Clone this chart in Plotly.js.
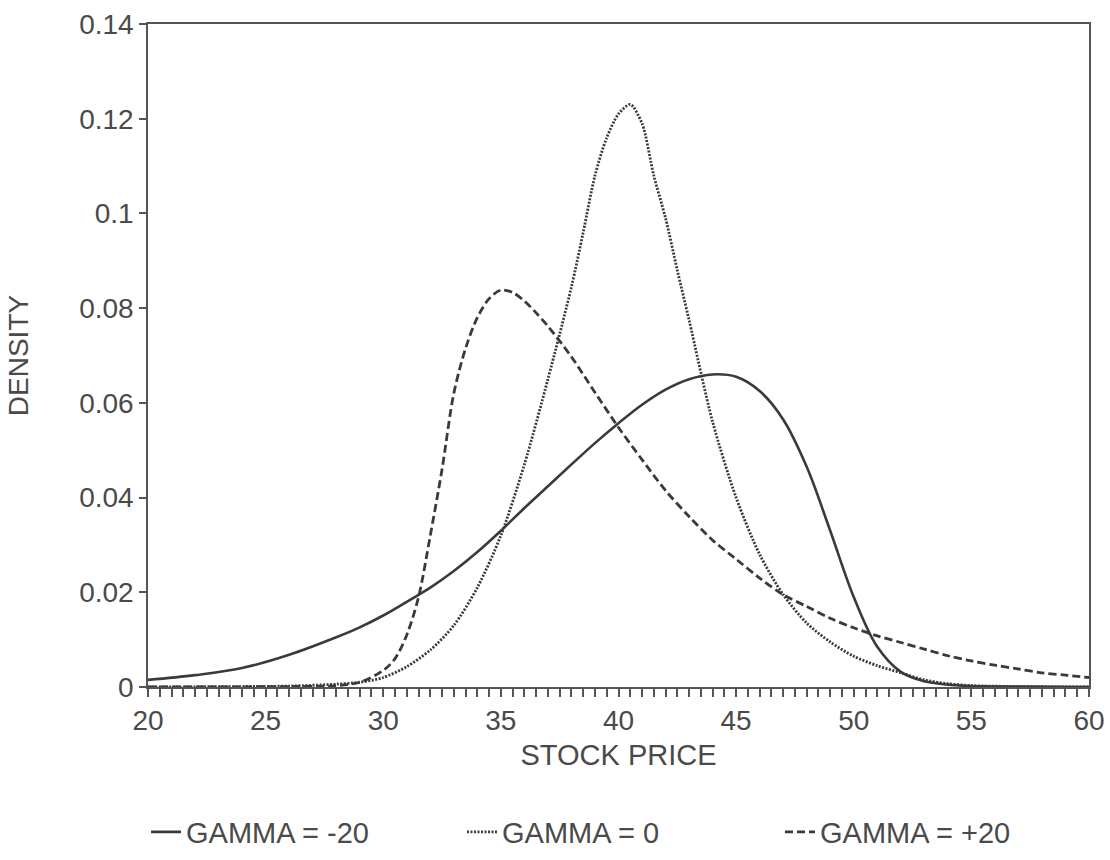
<!DOCTYPE html>
<html>
<head>
<meta charset="utf-8">
<script src="https://cdn.plot.ly/plotly-3.0.1.min.js"></script>
<style>html,body{margin:0;padding:0;background:#fff;}#chart{width:1110px;height:860px;}</style>
</head>
<body>
<div id="chart"></div>
<script>
// GAMMA = -20 (solid)
const priceNeg = [20,22,24,26,28,29,30,31,32,33,34,35,36,37,38,39,40,41,42,43,44,45,46,47,48,49,50,51,52,53,54,55,57,60];
const densityNeg = [0.0015,0.0025,0.004,0.0068,0.0105,0.0126,0.0151,0.018,0.021,0.0245,0.0285,0.033,0.0378,0.0424,0.047,0.0515,0.0557,0.0596,0.0628,0.065,0.066,0.0655,0.0625,0.0565,0.0465,0.033,0.019,0.0085,0.0032,0.0012,0.0005,0.0002,0.0001,0];

// GAMMA = 0 (dotted)
const priceZero = [20,24,26,28,29,30,31,32,33,34,35,36,37,38,38.5,39,39.5,40,40.5,41,41.5,42,42.5,43,44,45,46,47,48,49,50,51,52,53,54,55,57,60];
const densityZero = [0,0.0001,0.0002,0.0006,0.001,0.002,0.0043,0.0078,0.013,0.021,0.032,0.047,0.065,0.0845,0.096,0.108,0.116,0.121,0.123,0.119,0.108,0.099,0.088,0.0775,0.056,0.040,0.028,0.0195,0.0135,0.0095,0.0065,0.0045,0.003,0.0015,0.0007,0.0003,0.0001,0];

// GAMMA = +20 (dashed)
const pricePos = [20,26,28,29,30,30.5,31,31.5,32,32.5,33,33.5,34,34.5,35,35.5,36,36.5,37,38,39,40,41,42,43,44,45,46,47,48,49,50,51,52,53,54,55,56,57,58,59,60];
const densityPos = [0,0.0001,0.0003,0.001,0.0035,0.006,0.011,0.019,0.032,0.046,0.062,0.0715,0.078,0.082,0.0838,0.0833,0.0815,0.079,0.0762,0.0697,0.0622,0.0548,0.048,0.0415,0.036,0.031,0.027,0.023,0.0195,0.017,0.0145,0.0125,0.0108,0.0094,0.008,0.0066,0.0055,0.0046,0.0038,0.003,0.0025,0.002];

const seriesNames = ['GAMMA = -20', 'GAMMA = 0', 'GAMMA = +20'];
const xTitle = 'STOCK PRICE';
const yTitle = 'DENSITY';

const FONT = 'Liberation Sans, Arial, Helvetica, sans-serif';
const INK = '#3a3a3a';
const TXT = '#4a4a4a';

const traces = [
  {x: priceNeg, y: densityNeg, name: seriesNames[0], mode: 'lines', legend: 'legend',
   line: {color: INK, width: 2.6, shape: 'spline', smoothing: 1}},
  {x: priceZero, y: densityZero, name: seriesNames[1], mode: 'lines', legend: 'legend2',
   line: {color: INK, width: 2.8, dash: '2px,1.5px', shape: 'spline', smoothing: 0.8}},
  {x: pricePos, y: densityPos, name: seriesNames[2], mode: 'lines', legend: 'legend3',
   line: {color: INK, width: 2.8, dash: '8px,4px', shape: 'spline', smoothing: 0.9}}
];

function legendAt(px) {
  return {
    orientation: 'h', xref: 'container', yref: 'container',
    x: px / 1110, xanchor: 'left', y: (860 - 832) / 860, yanchor: 'middle',
    font: {family: FONT, size: 29, color: TXT},
    bgcolor: 'rgba(0,0,0,0)', borderwidth: 0
  };
}

const layout = {
  width: 1110, height: 860,
  margin: {l: 148, r: 21, t: 24, b: 173},
  paper_bgcolor: '#fff', plot_bgcolor: '#fff',
  font: {family: FONT, color: TXT, size: 28},
  showlegend: true,
  legend: legendAt(146),
  legend2: legendAt(462),
  legend3: legendAt(780),
  xaxis: {
    range: [20, 60], tick0: 20, dtick: 5,
    ticks: 'outside', ticklen: 8, tickwidth: 1.5, tickcolor: '#555',
    showline: true, linecolor: '#555', linewidth: 1.5, mirror: true,
    showgrid: false, zeroline: false,
    minor: {dtick: 0.5, tick0: 20, ticks: 'outside', ticklen: 8, tickwidth: 1.5, tickcolor: '#555', showgrid: false},
    tickfont: {family: FONT, size: 28, color: TXT},
    title: {text: xTitle, font: {family: FONT, size: 29, color: TXT}, standoff: 9}
  },
  yaxis: {
    range: [0, 0.14], tick0: 0, dtick: 0.02,
    ticks: 'outside', ticklen: 7, tickwidth: 1.5, tickcolor: '#555',
    showline: true, linecolor: '#555', linewidth: 1.5, mirror: true,
    showgrid: false, zeroline: false,
    tickfont: {family: FONT, size: 28, color: TXT},
    title: {text: yTitle, font: {family: FONT, size: 28, color: TXT}, standoff: 42}
  }
};

Plotly.newPlot('chart', traces, layout, {displayModeBar: false, responsive: false});
</script>
</body>
</html>
